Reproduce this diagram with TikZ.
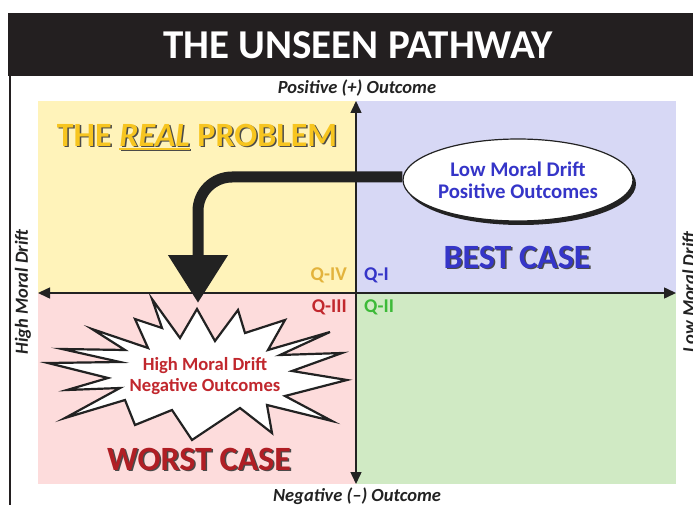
\documentclass[tikz,border=0pt]{standalone}
\usepackage{fontspec}
\setmainfont{Carlito}
\usetikzlibrary{arrows.meta,shapes.geometric}
\definecolor{barc}{HTML}{231F20}
\definecolor{axisc}{HTML}{222222}
\definecolor{qyellow}{HTML}{FFF3BA}
\definecolor{qblue}{HTML}{D7D8F5}
\definecolor{qpink}{HTML}{FDDCDC}
\definecolor{qgreen}{HTML}{D0EAC4}
\definecolor{realc}{HTML}{F7C520}
\definecolor{qivc}{HTML}{E3B33C}
\definecolor{bluet}{HTML}{3535C8}
\definecolor{redt}{HTML}{C1272D}
\definecolor{greent}{HTML}{3DBA38}
\definecolor{worstc}{HTML}{B01E24}
\definecolor{shadowc}{HTML}{4A4A4A}
\newcommand\fs[1]{\fontsize{#1}{#1}\selectfont}
\newcommand\ulreal{{\setbox0\hbox{\itshape REAL}\rlap{\rule[-3.5pt]{\wd0}{2pt}}\box0}}
\tikzset{
  axisline/.style={draw=axisc, line width=1.5pt, {Triangle[length=12pt,width=11pt]}-{Triangle[length=12pt,width=11pt]}},
  axlabel/.style={font=\fs{18.5}\bfseries\itshape, text=axisc, inner sep=0pt},
  qlabel/.style={font=\fs{19.5}\bfseries, inner sep=0pt},
  bigtitle/.style={font=\fs{34}\bfseries, inner sep=0pt},
  bigarrow/.style={draw=axisc, line width=11pt, rounded corners=34pt, -{Triangle[length=48pt,width=57pt]}},
  ovalbox/.style={ellipse, draw=axisc, line width=1.2pt, fill=white, minimum width=230pt, minimum height=82pt, inner sep=0pt, align=center, text=bluet, font=\fs{20.8}\bfseries},
  burst/.style={draw=axisc, line width=2.2pt, fill=white, line join=miter},
  bursttext/.style={align=center, text=redt, font=\fs{18.6}\bfseries, inner sep=0pt},
}
\begin{document}
\begin{tikzpicture}[x=1pt,y=-1pt]
\useasboundingbox (0,0) rectangle (693,505);
\clip (0,0) rectangle (693,505);
\fill[white] (0,0) rectangle (693,505);
% title bar and frame
\fill[barc] (8,13) rectangle (700,76);
\draw[barc, line width=1.5pt] (10,76) -- (10,510);
\node[font=\fs{41}\bfseries, text=white, inner sep=0pt] (title) at (358,45) {THE UNSEEN PATHWAY};
% quadrants
\fill[qyellow] (38,101) rectangle (356,293);
\fill[qblue] (356,101) rectangle (676,293);
\fill[qpink] (38,293) rectangle (356,484);
\fill[qgreen] (356,293) rectangle (676,484);
% axes
\coordinate (top) at (356,101);
\coordinate (bot) at (356,484);
\coordinate (lft) at (38,293);
\coordinate (rgt) at (676,293);
\draw[axisline] (top) -- (bot);
\draw[axisline] (lft) -- (rgt);
% axis labels
\node[axlabel] (pos) at (357,88) {Positive (+) Outcome};
\node[axlabel] (neg) at (357,496) {Negative (–) Outcome};
\node[axlabel, rotate=90] (high) at (23,292) {High Moral Drift};
\node[axlabel, rotate=90] (low) at (689,292) {Low Moral Drift};
% quadrant labels
\node[qlabel, text=qivc, anchor=east] (q4) at (347,275) {Q-IV};
\node[qlabel, text=bluet, anchor=west] (q1) at (364,275) {Q-I};
\node[qlabel, text=redt, anchor=east] (q3) at (347,307) {Q-III};
\node[qlabel, text=greent, anchor=west] (q2) at (364,307) {Q-II};
% big titles with shadows
\node[bigtitle, font=\fs{34}\bfseries, text=shadowc] (realS) at (198.5,138.5) {THE \ulreal{} PROBLEM};
\node[bigtitle, font=\fs{34}\bfseries, text=realc] (real) at (197,137) {THE \ulreal{} PROBLEM};
\node[bigtitle, text=shadowc] (bestS) at (518.5,258.5) {BEST CASE};
\node[bigtitle, text=bluet] (best) at (517,257) {BEST CASE};
\node[bigtitle, text=shadowc] (worstS) at (200.5,460.5) {WORST CASE};
\node[bigtitle, text=worstc] (worst) at (199,459) {WORST CASE};
% starburst
\draw[burst] (152,299) -- (180,338) -- (197,309) -- (215,341) -- (238,310) -- (245,333)
  -- (285,320) -- (268,350) -- (330,332) -- (280,355) -- (342,353) -- (292,371)
  -- (347,380) -- (285,396) -- (332,421) -- (267,405) -- (272,433) -- (240,408)
  -- (192,440) -- (172,410) -- (135,425) -- (125,400) -- (65,418) -- (120,388)
  -- (67,390) -- (108,378) -- (48,363) -- (120,362) -- (62,349) -- (125,350)
  -- (92,329) -- (148,348) -- (135,319) -- (162,328) -- cycle;
\node[bursttext] (worstbox) at (205,376) {High Moral Drift\\[2pt]Negative Outcomes};
% ellipse with shadow
\fill[axisc] (521,184) ellipse [x radius=115pt, y radius=41pt];
\node[ovalbox] (bestbox) at (518,180) {Low Moral Drift\\[1pt]Positive Outcomes};
% the big arrow
\coordinate (tip) at (198,303);
\draw[bigarrow] ([yshift=3pt]bestbox.west) -| (tip);
\end{tikzpicture}
\end{document}
